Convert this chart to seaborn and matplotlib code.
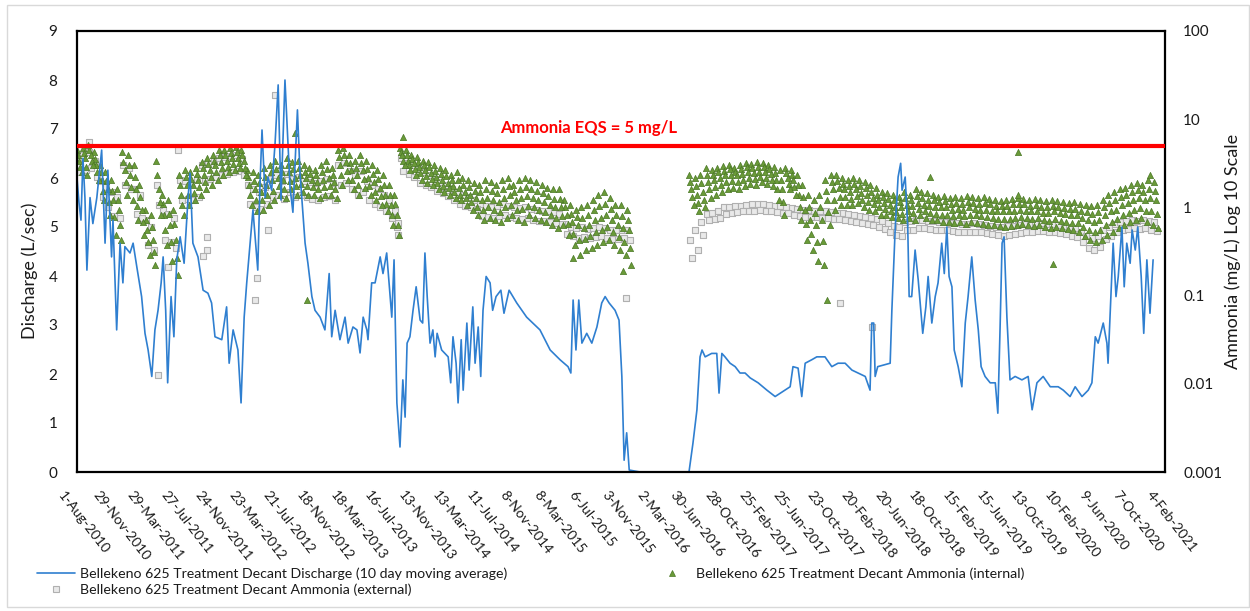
import numpy as np
import pandas as pd
import matplotlib
matplotlib.use("Agg")
import matplotlib.pyplot as plt
import seaborn as sns
from matplotlib.transforms import ScaledTranslation
from matplotlib.patches import Rectangle
from matplotlib.lines import Line2D
from matplotlib.ticker import NullLocator

nan = np.nan
START = "2010-08-01"
END = "2021-02-04"

tick_labels = ["1-Aug-2010", "29-Nov-2010", "29-Mar-2011", "27-Jul-2011", "24-Nov-2011",
               "23-Mar-2012", "21-Jul-2012", "18-Nov-2012", "18-Mar-2013", "16-Jul-2013",
               "13-Nov-2013", "13-Mar-2014", "11-Jul-2014", "8-Nov-2014", "8-Mar-2015",
               "6-Jul-2015", "3-Nov-2015", "2-Mar-2016", "30-Jun-2016", "28-Oct-2016",
               "25-Feb-2017", "25-Jun-2017", "23-Oct-2017", "20-Feb-2018", "20-Jun-2018",
               "18-Oct-2018", "15-Feb-2019", "15-Jun-2019", "13-Oct-2019", "10-Feb-2020",
               "9-Jun-2020", "7-Oct-2020", "4-Feb-2021"]

# Discharge (L/sec), 10 day moving average; days since 1-Aug-2010
discharge_days = [0, 7, 14, 21, 28, 35, 46, 56, 70, 87, 99, 109, 122, 127, 140, 152, 162, 169, 187, 198,
                  211, 228, 240, 251, 264, 275, 286, 297, 304, 313, 320, 332, 342, 352, 364, 378, 392, 399, 409, 427,
                  445, 462, 475, 487, 511, 528, 537, 551, 568, 579, 590, 599, 611, 621, 638, 646, 653, 664, 674, 687,
                  699, 710, 720, 734, 752, 762, 778, 787, 805, 815, 829, 840, 858, 875, 890, 899, 911, 928, 946, 957,
                  974, 988, 999, 1010, 1023, 1027, 1040, 1052, 1070, 1080, 1093, 1105, 1111, 1119, 1129, 1140, 1150, 1158, 1165, 1175,
                  1186, 1197, 1211, 1220, 1228, 1236, 1246, 1256, 1264, 1271, 1287, 1310, 1319, 1327, 1338, 1345, 1356, 1363, 1376, 1384,
                  1397, 1405, 1416, 1425, 1433, 1444, 1458, 1467, 1479, 1496, 1507, 1525, 1552, 1587, 1634, 1670, 1705, 1733, 1743, 1751,
                  1761, 1771, 1782, 1799, 1817, 1835, 1852, 1864, 1878, 1899, 1913, 1923, 1931, 1940, 1949, 1987, 2058, 2160, 2174, 2188,
                  2199, 2206, 2217, 2240, 2258, 2266, 2276, 2287, 2305, 2323, 2340, 2358, 2376, 2404, 2435, 2464, 2488, 2517, 2527, 2545,
                  2558, 2570, 2593, 2611, 2640, 2664, 2686, 2711, 2735, 2757, 2782, 2799, 2805, 2812, 2817, 2826, 2845, 2870, 2876, 2888,
                  2898, 2907, 2912, 2923, 2932, 2937, 2946, 2958, 2969, 2985, 2996, 3004, 3017, 3029, 3039, 3052, 3061, 3070, 3078, 3088,
                  3096, 3110, 3123, 3135, 3145, 3158, 3170, 3181, 3191, 3205, 3223, 3241, 3250, 3258, 3265, 3272, 3282, 3293, 3311, 3335,
                  3357, 3371, 3388, 3410, 3435, 3463, 3481, 3505, 3523, 3547, 3569, 3582, 3594, 3604, 3622, 3635, 3639, 3652, 3657, 3667,
                  3675, 3688, 3696, 3705, 3717, 3724, 3735, 3744, 3756, 3765, 3776, 3787, 3798]
discharge_lps = [6.0, 5.5, 5.14, 6.4, 5.6, 4.12, 5.6, 5.07, 5.6, 6.57, 4.67, 6.16, 4.39, 5.14, 2.9, 4.67, 3.86, 4.6, 4.47, 4.67,
                 4.19, 3.58, 2.83, 2.49, 1.95, 2.9, 3.3, 3.86, 4.39, 3.3, 1.82, 3.58, 2.76, 4.33, 4.8, 4.26, 5.6, 6.1, 4.67, 4.39,
                 3.71, 3.65, 3.45, 2.76, 2.7, 3.37, 2.22, 2.9, 2.49, 1.41, 3.16, 3.86, 4.67, 5.35, 4.12, 5.9, 6.98, 5.6, 6.02, 5.75,
                 6.7, 7.9, 5.55, 8.0, 5.8, 5.3, 7.39, 6.1, 4.67, 4.26, 3.58, 3.3, 3.16, 2.9, 4.05, 2.76, 3.3, 2.7, 3.16, 2.63,
                 2.96, 2.9, 2.43, 3.16, 2.9, 2.7, 3.86, 3.86, 4.39, 4.05, 4.47, 3.58, 3.16, 4.33, 1.41, 0.51, 1.88, 1.12, 2.63, 2.76,
                 3.3, 3.78, 3.1, 3.04, 4.47, 3.58, 2.63, 2.9, 2.35, 2.83, 2.49, 2.35, 1.82, 2.76, 2.22, 1.41, 2.7, 1.67, 3.04, 2.08,
                 3.37, 2.22, 2.96, 1.95, 3.3, 3.99, 3.86, 3.3, 3.58, 3.71, 3.24, 3.71, 3.45, 3.16, 2.9, 2.49, 2.29, 2.15, 2.02, 3.51,
                 2.49, 3.51, 2.63, 2.83, 2.63, 2.96, 3.45, 3.58, 3.45, 3.3, 3.1, 1.95, 0.24, 0.8, 0.04, 0.0, 0.0, 0.0, 0.59, 1.27,
                 2.35, 2.49, 2.35, 2.42, 2.42, 1.61, 2.42, 2.35, 2.22, 2.15, 2.02, 2.02, 1.92, 1.82, 1.67, 1.54, 1.63, 1.74, 2.15, 2.12,
                 1.54, 2.22, 2.29, 2.35, 2.35, 2.15, 2.22, 2.22, 2.08, 2.02, 1.95, 1.67, 3.04, 3.04, 1.95, 2.15, 2.18, 2.22, 3.3, 5.0,
                 6.02, 6.3, 5.75, 6.02, 5.0, 3.58, 3.58, 4.53, 3.92, 2.83, 3.37, 3.99, 3.04, 3.58, 3.86, 4.67, 4.05, 5.0, 3.99, 3.78,
                 2.49, 2.15, 1.74, 3.04, 3.58, 4.39, 3.51, 2.9, 2.15, 1.95, 1.82, 1.82, 1.2, 2.96, 4.67, 4.8, 3.16, 1.88, 1.95, 1.88,
                 1.95, 1.27, 1.82, 1.95, 1.74, 1.74, 1.67, 1.54, 1.74, 1.54, 1.67, 1.82, 2.76, 2.63, 3.04, 2.63, 2.22, 3.99, 4.67, 3.58,
                 3.99, 5.0, 3.78, 4.67, 4.26, 4.94, 4.53, 5.0, 3.99, 2.83, 4.33, 3.24, 4.33]

# Ammonia (mg/L), samples every 20 days read across each cloud (upper ... lower)
internal_upper = [4.5, 4.7, 5.1, 4.2, 3.0, 2.5, 2.05, 1.6, 4.2, 3.9,
                  3.0, 1.8, 0.94, 0.82, 3.4, 1.4, 1.2, 0.94, 2.35, 2.65,
                  2.5, 2.8, 3.3, 3.6, 3.9, 4.5, 4.5, 4.7, 4.9, 4.5,
                  2.65, 2.5, 2.35, 2.8, 3.0, 3.4, 3.0, 3.6, 3.3, 3.4,
                  3.0, 2.8, 2.65, 3.0, 3.4, 2.8, 4.5, 4.7, 3.9, 3.4,
                  3.9, 3.4, 3.0, 2.65, 2.35, 1.8, 1.4, 4.7, 4.5, 3.9,
                  3.7, 3.4, 3.3, 3.0, 2.8, 2.65, 2.35, 2.5, 2.15, 2.05,
                  1.9, 1.8, 2.05, 1.95, 1.8, 2.05, 2.15, 1.8, 2.05, 2.15,
                  2.05, 1.95, 1.8, 1.65, 1.6, 1.6, 1.2, 1.07, 0.94, 1.0,
                  1.07, 1.2, 1.4, 1.5, 1.28, 1.07, 1.07, 0.94,
                  nan, nan, nan, nan, nan, nan, nan, nan, nan, nan,
                  2.35, 2.15, 2.35, 2.8, 2.65, 2.8, 2.95, 3.0, 2.8, 3.0,
                  3.2, 3.1, 3.3, 3.2, 3.0, 2.9, 2.65, 2.8, 2.65, 2.35,
                  1.8, 1.4, 1.2, 1.4, 2.05, 2.35, 2.35, 2.15, 2.05, 2.15,
                  2.05, 1.95, 1.8, 1.65, 1.5, 1.45, 1.4, 1.3, 1.5, 1.4,
                  1.6, 1.5, 1.45, 1.4, 1.3, 1.35, 1.28, 1.3, 1.28, 1.35,
                  1.3, 1.28, 1.3, 1.25, 1.2, 1.18, 1.2, 1.25, 1.28, 1.25,
                  1.2, 1.25, 1.2, 1.18, 1.2, 1.18, 1.15, 1.12, 1.15, 1.1,
                  1.07, 1.04, 1.07, 1.2, 1.4, 1.5, 1.6, 1.65, 1.8, 1.9,
                  1.8, 2.05, 1.95]
internal_q1 = [3.9, 4.1, 4.5, 3.5, 2.5, 2.0, 1.55, 1.2, 3.3, 3.0,
               2.2, 1.3, 0.72, 0.6, 2.3, 1.1, 0.85, 0.65, 1.8, 2.2,
               2.1, 2.4, 2.8, 3.1, 3.4, 3.9, 3.9, 4.1, 4.2, 3.9,
               2.2, 2.0, 1.9, 2.2, 2.5, 2.7, 2.5, 3.0, 2.7, 2.8,
               2.5, 2.4, 2.3, 2.5, 2.7, 2.3, 3.7, 3.9, 3.2, 2.8,
               3.2, 2.7, 2.4, 2.1, 1.8, 1.4, 1.1, 4.3, 3.9, 3.5,
               3.3, 3.0, 2.85, 2.6, 2.4, 2.25, 2.05, 2.05, 1.8, 1.7,
               1.55, 1.5, 1.6, 1.55, 1.45, 1.6, 1.75, 1.5, 1.6, 1.7,
               1.6, 1.55, 1.45, 1.35, 1.25, 1.25, 1.0, 0.85, 0.77, 0.76,
               0.83, 0.93, 1.05, 1.1, 0.96, 0.82, 0.79, 0.72,
               nan, nan, nan, nan, nan, nan, nan, nan, nan, nan,
               1.95, 1.75, 1.9, 2.35, 2.35, 2.5, 2.6, 2.7, 2.55, 2.7,
               2.85, 2.8, 2.9, 2.85, 2.7, 2.45, 2.05, 2.45, 2.35, 1.8,
               1.3, 1.0, 0.87, 1.0, 1.55, 1.95, 2.0, 1.85, 1.75, 1.85,
               1.75, 1.65, 1.5, 1.4, 1.3, 1.25, 1.2, 1.15, 1.28, 1.2,
               1.35, 1.28, 1.22, 1.2, 1.14, 1.17, 1.1, 1.13, 1.1, 1.16,
               1.12, 1.1, 1.11, 1.08, 1.04, 1.03, 1.04, 1.08, 1.1, 1.08,
               1.04, 1.06, 1.02, 1.0, 1.04, 1.01, 0.99, 0.96, 0.97, 0.92,
               0.88, 0.85, 0.88, 1.0, 1.12, 1.2, 1.3, 1.38, 1.5, 1.58,
               1.5, 1.62, 1.55]
internal_mid = [3.4, 3.6, 3.9, 3.0, 2.05, 1.6, 1.2, 0.94, 2.65, 2.35,
                1.6, 0.94, 0.55, 0.43, 1.6, 0.82, 0.63, 0.43, 1.4, 1.8,
                1.8, 2.05, 2.35, 2.65, 3.0, 3.3, 3.4, 3.6, 3.6, 3.4,
                1.8, 1.6, 1.5, 1.8, 2.05, 2.15, 2.05, 2.5, 2.15, 2.35,
                2.15, 2.05, 1.95, 2.05, 2.15, 1.95, 3.0, 3.3, 2.65, 2.35,
                2.65, 2.15, 1.95, 1.65, 1.4, 1.07, 0.82, 3.9, 3.4, 3.2,
                2.9, 2.65, 2.45, 2.2, 2.05, 1.9, 1.75, 1.65, 1.5, 1.4,
                1.28, 1.2, 1.28, 1.2, 1.15, 1.28, 1.4, 1.2, 1.28, 1.35,
                1.28, 1.2, 1.15, 1.07, 1.0, 1.0, 0.82, 0.68, 0.63, 0.58,
                0.63, 0.72, 0.76, 0.82, 0.72, 0.63, 0.58, 0.55,
                nan, nan, nan, nan, nan, nan, nan, nan, nan, nan,
                1.6, 1.4, 1.5, 1.95, 2.05, 2.15, 2.3, 2.35, 2.3, 2.4,
                2.5, 2.45, 2.5, 2.5, 2.4, 2.05, 1.6, 2.15, 2.05, 1.4,
                0.94, 0.72, 0.63, 0.72, 1.2, 1.6, 1.65, 1.6, 1.5, 1.6,
                1.45, 1.4, 1.28, 1.2, 1.12, 1.07, 1.02, 1.0, 1.07, 1.04,
                1.12, 1.07, 1.04, 1.02, 1.0, 1.0, 0.94, 0.97, 0.94, 1.0,
                0.97, 0.94, 0.94, 0.92, 0.9, 0.9, 0.9, 0.92, 0.94, 0.92,
                0.9, 0.9, 0.87, 0.87, 0.9, 0.87, 0.85, 0.82, 0.82, 0.76,
                0.72, 0.68, 0.72, 0.82, 0.9, 0.94, 1.07, 1.12, 1.2, 1.28,
                1.2, 1.28, 1.2]
internal_q3 = [2.9, 2.9, 3.4, 2.5, 1.55, 1.15, 0.78, 0.63, 1.95, 1.7,
               1.05, 0.68, 0.4, 0.31, 1.15, 0.55, 0.4, 0.27, 1.07, 1.4,
               1.45, 1.7, 1.95, 2.2, 2.5, 2.8, 2.9, 3.1, 3.2, 2.8,
               1.4, 1.2, 1.2, 1.4, 1.55, 1.75, 1.6, 2.0, 1.75, 1.85,
               1.75, 1.7, 1.6, 1.7, 1.75, 1.6, 2.3, 2.6, 2.05, 1.8,
               2.1, 1.75, 1.5, 1.35, 1.1, 0.82, 0.63, 3.4, 3.0, 2.75,
               2.45, 2.25, 2.1, 1.9, 1.75, 1.65, 1.5, 1.4, 1.28, 1.15,
               1.02, 0.93, 1.0, 0.94, 0.88, 1.0, 1.07, 0.93, 0.95, 1.05,
               1.0, 0.94, 0.88, 0.82, 0.76, 0.8, 0.64, 0.5, 0.43, 0.44,
               0.47, 0.52, 0.55, 0.6, 0.52, 0.46, 0.41, 0.35,
               nan, nan, nan, nan, nan, nan, nan, nan, nan, nan,
               1.3, 1.12, 1.22, 1.6, 1.7, 1.8, 1.92, 2.0, 1.92, 2.05,
               2.15, 2.1, 2.2, 2.15, 2.05, 1.6, 1.15, 1.85, 1.7, 1.0,
               0.64, 0.5, 0.4, 0.42, 0.88, 1.22, 1.32, 1.3, 1.25, 1.35,
               1.22, 1.15, 1.08, 1.0, 0.96, 0.91, 0.88, 0.85, 0.9, 0.87,
               0.96, 0.9, 0.87, 0.85, 0.83, 0.83, 0.8, 0.82, 0.79, 0.83,
               0.81, 0.79, 0.77, 0.76, 0.74, 0.73, 0.74, 0.76, 0.78, 0.76,
               0.74, 0.75, 0.72, 0.71, 0.73, 0.71, 0.69, 0.67, 0.66, 0.6,
               0.56, 0.53, 0.56, 0.63, 0.69, 0.74, 0.82, 0.87, 0.93, 0.99,
               0.92, 0.9, 0.84]
internal_lower = [2.5, 2.35, 3.0, 2.05, 1.2, 0.82, 0.49, 0.43, 1.4, 1.2,
                  0.72, 0.49, 0.29, 0.22, 0.82, 0.37, 0.25, 0.17, 0.82, 1.07,
                  1.2, 1.4, 1.6, 1.8, 2.05, 2.35, 2.5, 2.65, 2.8, 2.35,
                  1.07, 0.9, 0.94, 1.07, 1.2, 1.4, 1.28, 1.6, 1.4, 1.5,
                  1.4, 1.4, 1.28, 1.4, 1.4, 1.28, 1.8, 2.05, 1.6, 1.4,
                  1.65, 1.4, 1.2, 1.07, 0.9, 0.63, 0.49, 3.0, 2.65, 2.35,
                  2.05, 1.9, 1.8, 1.6, 1.5, 1.4, 1.28, 1.2, 1.07, 0.94,
                  0.82, 0.72, 0.76, 0.72, 0.68, 0.76, 0.82, 0.72, 0.68, 0.82,
                  0.76, 0.72, 0.68, 0.63, 0.58, 0.63, 0.49, 0.37, 0.29, 0.33,
                  0.35, 0.37, 0.4, 0.43, 0.37, 0.33, 0.29, 0.22,
                  nan, nan, nan, nan, nan, nan, nan, nan, nan, nan,
                  1.07, 0.9, 1.0, 1.28, 1.4, 1.5, 1.6, 1.65, 1.6, 1.75,
                  1.85, 1.8, 1.95, 1.85, 1.75, 1.2, 0.82, 1.6, 1.4, 0.72,
                  0.43, 0.33, 0.25, 0.22, 0.63, 0.94, 1.07, 1.07, 1.07, 1.12,
                  1.02, 0.94, 0.9, 0.82, 0.82, 0.78, 0.76, 0.72, 0.76, 0.72,
                  0.82, 0.76, 0.72, 0.72, 0.68, 0.68, 0.67, 0.68, 0.65, 0.68,
                  0.67, 0.65, 0.63, 0.63, 0.61, 0.6, 0.61, 0.63, 0.65, 0.63,
                  0.61, 0.63, 0.6, 0.58, 0.6, 0.58, 0.57, 0.55, 0.53, 0.47,
                  0.43, 0.4, 0.43, 0.49, 0.53, 0.58, 0.63, 0.68, 0.72, 0.76,
                  0.68, 0.63, 0.58]
external_upper = [3.6, 3.9, 4.2, 3.4, 2.0, 1.7, 1.5, 1.3, 3.0, 2.8,
                  1.6, 1.4, 0.72, 0.6, 1.8, 0.94, 0.85, 0.75, 2.05, 2.0,
                  1.9, 2.1, 3.0, 3.2, 3.4, 3.6, 3.7, 3.8, 3.9, 3.5,
                  1.8, 1.6, 1.5, 1.7, 2.1, 2.3, 2.0, 2.4, 2.1, 2.2,
                  2.0, 1.95, 1.9, 2.0, 2.1, 1.9, 3.0, 3.2, 2.6, 2.3,
                  2.6, 2.0, 1.8, 1.6, 1.4, 1.2, 0.9, 3.6, 3.2, 3.0,
                  2.7, 2.5, 2.3, 2.1, 1.95, 1.8, 1.6, 1.5, 1.4, 1.3,
                  1.2, 1.1, 1.05, 1.0, 1.05, 1.1, 1.05, 1.0, 0.98, 1.0,
                  0.96, 0.94, 0.92, 0.9, 0.88, 0.85, 0.65, 0.6, 0.58, 0.6,
                  0.57, 0.58, 0.6, 0.58, 0.56, 0.55, 0.56, 0.55,
                  nan, nan, nan, nan, nan, nan, nan, nan, nan, nan,
                  0.43, 0.55, 0.68, 0.85, 0.87, 0.9, 1.0, 1.02, 1.04, 1.05,
                  1.07, 1.08, 1.1, 1.08, 1.07, 1.05, 1.04, 1.02, 0.98, 0.96,
                  0.94, 0.93, 0.92, 0.9, 0.9, 0.88, 0.87, 0.86, 0.84, 0.82,
                  0.8, 0.78, 0.76, 0.74, 0.7, 0.66, 0.62, 0.6, 0.68, 0.7,
                  0.72, 0.72, 0.7, 0.7, 0.68, 0.68, 0.66, 0.66, 0.65, 0.65,
                  0.66, 0.64, 0.63, 0.62, 0.6, 0.6, 0.61, 0.62, 0.63, 0.64,
                  0.65, 0.66, 0.66, 0.65, 0.64, 0.63, 0.62, 0.6, 0.58, 0.53,
                  0.48, 0.45, 0.47, 0.55, 0.6, 0.65, 0.68, 0.7, 0.72, 0.7,
                  0.72, 0.7, 0.68]
external_lower = [2.5, 2.65, 2.8, 2.2, 1.3, 1.0, 0.8, 0.75, 1.8, 1.6,
                  0.85, 0.75, 0.37, 0.33, 1.07, 0.43, 0.4, 0.35, 1.2, 1.25,
                  1.2, 1.3, 2.0, 2.1, 2.2, 2.3, 2.4, 2.5, 2.6, 2.3,
                  1.1, 1.0, 0.95, 1.1, 1.3, 1.4, 1.25, 1.5, 1.3, 1.4,
                  1.3, 1.25, 1.2, 1.3, 1.35, 1.2, 1.8, 1.9, 1.6, 1.4,
                  1.5, 1.2, 1.1, 1.0, 0.9, 0.75, 0.6, 2.6, 2.4, 2.2,
                  1.9, 1.8, 1.7, 1.55, 1.45, 1.35, 1.2, 1.1, 1.05, 1.0,
                  0.95, 0.8, 0.78, 0.75, 0.8, 0.82, 0.78, 0.76, 0.74, 0.75,
                  0.72, 0.7, 0.7, 0.68, 0.66, 0.65, 0.5, 0.47, 0.45, 0.46,
                  0.45, 0.46, 0.47, 0.45, 0.44, 0.44, 0.45, 0.43,
                  nan, nan, nan, nan, nan, nan, nan, nan, nan, nan,
                  0.27, 0.33, 0.49, 0.72, 0.74, 0.76, 0.85, 0.86, 0.88, 0.9,
                  0.9, 0.92, 0.93, 0.92, 0.9, 0.88, 0.87, 0.86, 0.82, 0.8,
                  0.78, 0.78, 0.77, 0.76, 0.75, 0.74, 0.73, 0.72, 0.7, 0.68,
                  0.67, 0.65, 0.63, 0.6, 0.57, 0.52, 0.49, 0.48, 0.55, 0.56,
                  0.58, 0.58, 0.57, 0.56, 0.55, 0.55, 0.54, 0.53, 0.52, 0.52,
                  0.53, 0.52, 0.51, 0.5, 0.49, 0.48, 0.49, 0.5, 0.51, 0.52,
                  0.53, 0.54, 0.54, 0.53, 0.52, 0.51, 0.5, 0.48, 0.46, 0.4,
                  0.35, 0.33, 0.36, 0.44, 0.48, 0.52, 0.55, 0.57, 0.58, 0.57,
                  0.58, 0.56, 0.54]
internal_extra_days = [770, 1151, 812, 3322, 3011, 3322, 3445, 2648, 1927, 1751, 3788]
internal_extra_vals = [6.9, 6.3, 0.088, 4.2, 2.2, 1.4, 0.23, 0.088, 0.19, 0.27, 2.35]
external_extra_days = [42, 357, 459, 459, 445, 321, 286, 635, 628, 674, 699, 1133, 1133, 2693, 2805, 1938]
external_extra_vals = [5.5, 4.5, 0.46, 0.33, 0.28, 0.21, 0.0125, 0.16, 0.088, 0.55, 18.8, 0.67, 0.49, 0.083, 0.044, 0.095]
EQS = 5.0

assert len(discharge_days) == len(discharge_lps), (len(discharge_days), len(discharge_lps))
for arr in (internal_upper, internal_q1, internal_mid, internal_q3, internal_lower,
            external_upper, external_lower):
    assert len(arr) == 191, len(arr)

start = pd.Timestamp(START)
q_dates = start + pd.to_timedelta(discharge_days, unit="D")
tick_dates = pd.to_datetime(tick_labels, format="%d-%b-%Y")


def rng(offset):
    return pd.date_range(start + pd.Timedelta(days=offset), periods=191, freq="20D")


int_dates = np.concatenate([rng(0), rng(4), rng(8), rng(12), rng(16),
                            start + pd.to_timedelta(internal_extra_days, unit="D")])
int_vals = np.array(internal_upper + internal_q1 + internal_mid + internal_q3 + internal_lower
                    + internal_extra_vals)
ext_dates = np.concatenate([rng(2), rng(10),
                            start + pd.to_timedelta(external_extra_days, unit="D")])
ext_vals = np.array(external_upper + external_lower + external_extra_vals)
int_df = pd.DataFrame({"date": pd.to_datetime(int_dates), "val": int_vals}).dropna()
ext_df = pd.DataFrame({"date": pd.to_datetime(ext_dates), "val": ext_vals}).dropna()
q_df = pd.DataFrame({"date": q_dates, "val": discharge_lps})

sns.set_theme(style="white")
plt.rcParams["font.family"] = ["Lato", "DejaVu Sans"]
TXT = "#1a1a1a"
BLUE = "#2f7fd0"
GREEN_F = "#6a9a38"
GREEN_E = "#4a7826"
GRAY_F = "#e9e9e9"
GRAY_E = "#b0b0b0"

W, H = 1250, 611
fig = plt.figure(figsize=(W / 100, H / 100), dpi=100)
fig.patch.set_facecolor("white")
ax = fig.add_axes([77 / W, 1 - 472 / H, 1088 / W, 441 / H])
ax2 = ax.twinx()
ax3 = ax.twinx()
ax2.set_zorder(1)
ax.set_zorder(2)
ax3.set_zorder(3)
for a in (ax, ax3):
    a.patch.set_visible(False)

# ammonia scatter (right, log axis)
sns.scatterplot(data=ext_df, x="date", y="val", ax=ax2, marker="s", s=13,
                color=GRAY_F, edgecolor=GRAY_E, linewidth=0.8, legend=False, zorder=2)
sns.scatterplot(data=int_df, x="date", y="val", ax=ax2, marker="^", s=20,
                color=GREEN_F, edgecolor=GREEN_E, linewidth=0.5, legend=False, zorder=3)
ax2.set_yscale("log")
ax2.set_ylim(0.001, 100)
ax2.set_yticks([0.001, 0.01, 0.1, 1, 10, 100])
ax2.set_yticklabels(["0.001", "0.01", "0.1", "1", "10", "100"])
ax2.yaxis.set_minor_locator(NullLocator())
ax2.tick_params(axis="y", length=0, pad=13, labelsize=11, labelcolor=TXT)
ax2.set_ylabel("")
ax2.grid(True, axis="x", color="#e8e8e8", lw=1)
ax2.grid(False, axis="y")

# discharge line (left axis)
sns.lineplot(data=q_df, x="date", y="val", ax=ax, color=BLUE, lw=1.2, estimator=None)
ax.set_ylim(0, 9)
ax.set_yticks(range(0, 10))
ax.tick_params(axis="y", length=0, pad=14, labelsize=11, labelcolor=TXT)
ax.set_xlim(start, pd.Timestamp(END))
ax.set_xticks(tick_dates)
ax.set_xticklabels(tick_labels, rotation=-52, ha="left", va="center",
                   rotation_mode="anchor", fontsize=10, color=TXT)
ax.tick_params(axis="x", length=0, pad=15)
off = ScaledTranslation(-0.16, 0, fig.dpi_scale_trans)
for lbl in ax.get_xticklabels():
    lbl.set_transform(lbl.get_transform() + off)
ax.set_xlabel("")
ax.set_ylabel("")
for s in ax.spines.values():
    s.set_color("black")
    s.set_linewidth(1.6)

# EQS line overlay
ax3.set_yscale("log")
ax3.set_ylim(0.001, 100)
ax3.axhline(EQS, color="#ff0000", lw=3)
ax3.text(0.4706, 0.78, "Ammonia EQS = 5 mg/L", transform=ax3.transAxes, ha="center",
         va="center", color="#ff0000", fontweight="bold", fontsize=12)
ax3.set_yticks([])
ax3.yaxis.set_minor_locator(NullLocator())
for s in ax3.spines.values():
    s.set_visible(False)
for s in ax2.spines.values():
    s.set_visible(False)

fig.text(30 / W, 1 - 271 / H, "Discharge (L/sec)", rotation=90, ha="center", va="center",
         fontsize=13, color=TXT)
fig.text(1233 / W, 1 - 251 / H, "Ammonia (mg/L) Log 10 Scale", rotation=90, ha="center",
         va="center", fontsize=13, color=TXT)

h_q = Line2D([], [], color=BLUE, lw=1.2)
h_e = Line2D([], [], marker="s", ls="none", ms=4, mfc=GRAY_F, mec=GRAY_E, mew=0.8)
h_i = Line2D([], [], marker="^", ls="none", ms=4, mfc=GREEN_F, mec=GREEN_E, mew=0.5)
leg_kw = dict(loc="upper left", frameon=False, fontsize=10.2, handlelength=2.7,
              handletextpad=0.3, labelspacing=0.3, borderpad=0, borderaxespad=0)
leg1 = fig.legend([h_q, h_e], ["Bellekeno 625 Treatment Decant Discharge (10 day moving average)",
                               "Bellekeno 625 Treatment Decant Ammonia (external)"],
                  bbox_to_anchor=(37 / W, 1 - 567 / H), **leg_kw)
leg2 = fig.legend([h_i], ["Bellekeno 625 Treatment Decant Ammonia (internal)"],
                  bbox_to_anchor=(653 / W, 1 - 567 / H), **leg_kw)
for lg in (leg1, leg2):
    for t in lg.get_texts():
        t.set_color(TXT)

fig.add_artist(Rectangle((7 / W, 1 - 607 / H), 1242 / W, 602 / H, transform=fig.transFigure,
                         fill=False, ec="#d9d9d9", lw=1))

fig.savefig("out.png", dpi=100, facecolor="white")
